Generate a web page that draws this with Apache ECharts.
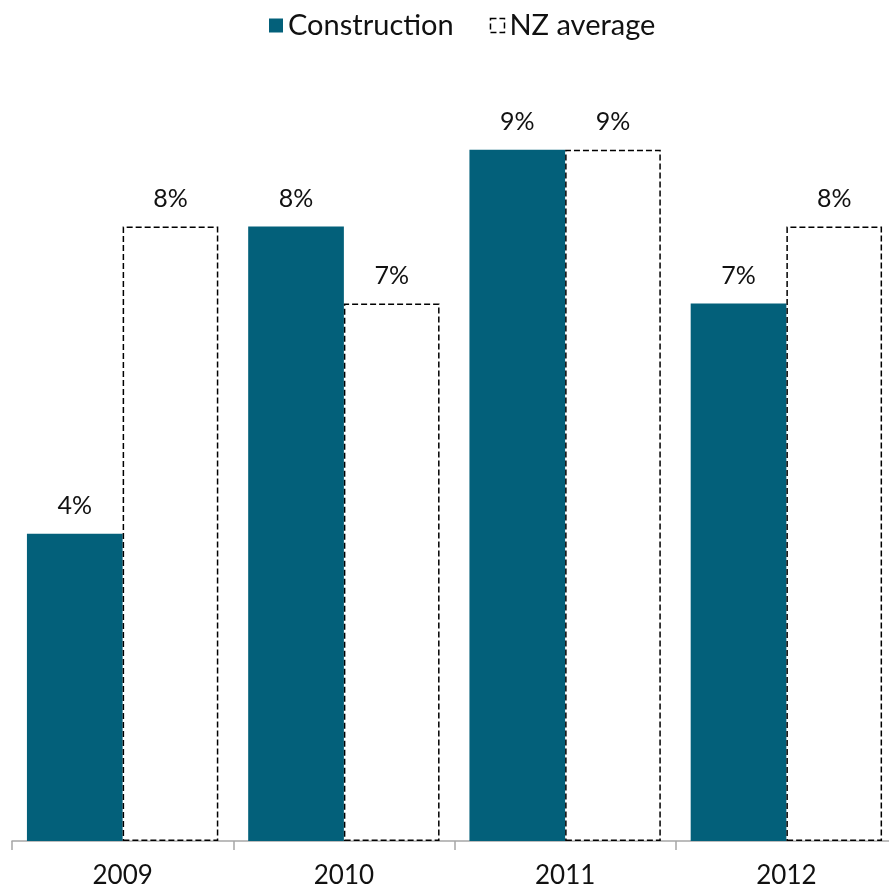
<!DOCTYPE html>
<html>
<head>
<meta charset="utf-8">
<script src="https://cdn.jsdelivr.net/npm/echarts@6/dist/echarts.min.js"></script>
<style>
	html, body { margin: 0; padding: 0; background: #fff; overflow: hidden; }
	#main { width: 897px; height: 889px; }
</style>
</head>
<body>
<div id="main"></div>
<script>
var years = ['2009', '2010', '2011', '2012'];
var construction = [4, 8, 9, 7];
var nzAverage = [8, 7, 9, 8];

var font = 'Lato, "DejaVu Sans", sans-serif';

// the right end of the axis runs off the page, so the chart is a bit wider than the window
var option = {
	animation: false,
	textStyle: { fontFamily: font },
	legend: {
		top: 6,
		left: 264,
		itemWidth: 14,
		itemHeight: 14,
		itemGap: 36,
		textStyle: { fontSize: 29, color: '#111', fontFamily: font },
		data: [{
			name: 'Construction',
			icon: 'rect'
		}, {
			name: 'NZ average',
			icon: 'rect',
			itemStyle: { color: '#fff', borderColor: '#000', borderWidth: 1.5, borderType: 'dashed' }
		}]
	},
	grid: { left: 12, right: 0, top: 73, bottom: 46 },
	xAxis: {
		type: 'category',
		data: years,
		axisLine: { lineStyle: { color: '#a6a6a6', width: 1.5 } },
		axisTick: { show: true, length: 9, lineStyle: { color: '#a6a6a6', width: 1.5 } },
		axisLabel: { fontSize: 26, color: '#111', margin: 22, fontFamily: font }
	},
	yAxis: {
		type: 'value',
		min: 0,
		max: 10,
		show: false,
		splitLine: { show: false }
	},
	series: [{
		name: 'Construction',
		type: 'bar',
		data: construction,
		barGap: 0,
		barCategoryGap: '13.5%',
		itemStyle: { color: '#03607a' },
		label: {
			show: true,
			position: 'top',
			distance: 15,
			fontSize: 25,
			color: '#111',
			fontFamily: font,
			formatter: '{c}%'
		}
	}, {
		name: 'NZ average',
		type: 'bar',
		data: nzAverage,
		itemStyle: { color: '#fff', borderColor: '#000', borderWidth: 1.5, borderType: 'dashed' },
		label: {
			show: true,
			position: 'top',
			distance: 15,
			fontSize: 25,
			color: '#111',
			fontFamily: font,
			formatter: '{c}%'
		}
	}]
};

var my = echarts.init(document.getElementById('main'));
my.setOption(option);
</script>
</body>
</html>
